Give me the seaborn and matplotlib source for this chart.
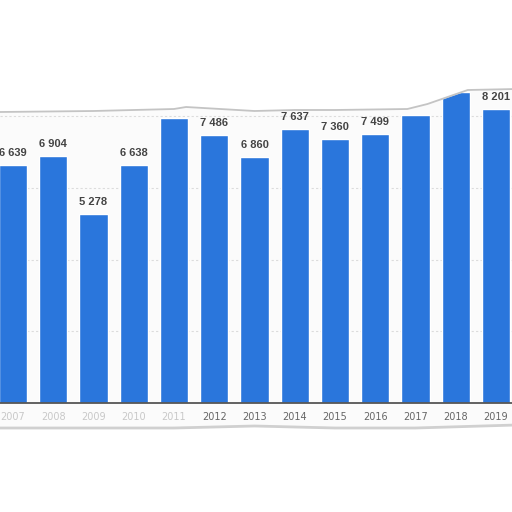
import matplotlib
matplotlib.use("Agg")
import matplotlib.pyplot as plt
import seaborn as sns
import pandas as pd
import numpy as np

years = ["2007", "2008", "2009", "2010", "2011", "2012", "2013",
         "2014", "2015", "2016", "2017", "2018", "2019"]
values = [6639, 6904, 5278, 6638, 7950, 7486, 6860,
          7637, 7360, 7499, 8035, 8680, 8201]
# labels visible in the (torn) reference; None = hidden by the torn edge
shown_labels = ["6 639", "6 904", "5 278", "6 638", None, "7 486", "6 860",
                "7 637", "7 360", "7 499", None, None, "8 201"]
faded_years = ["2007", "2008", "2009", "2010", "2011"]

BAR = "#2a76dc"
PX = 27.9          # value units per pixel
BASE = 403         # baseline pixel row

def v(p):
    return (BASE - p) * PX

sns.set_theme(style="white")
plt.rcParams['font.family'] = ['DejaVu Sans']

fig = plt.figure(figsize=(5.12, 5.12), dpi=100)
fig.patch.set_facecolor("white")
ax = fig.add_axes([0, 0, 1, 1])
ax.set_facecolor("white")

df = pd.DataFrame({"year": years, "value": values})

# chart "paper" background
ax.axhspan(v(428), v(88), color="#fbfbfb", zorder=0)

for g in [2000, 4000, 6000, 8000]:
    ax.axhline(g, color="#dcdcdc", lw=0.8, ls=(0, (2, 2)), zorder=0.5)

sns.barplot(data=df, x="year", y="value", color=BAR, width=0.70,
            saturation=1, ax=ax, zorder=2)

ax.axhline(0, color="#555555", lw=1.3, zorder=3)

for i, (val, lab) in enumerate(zip(values, shown_labels)):
    if lab:
        ax.text(i, val + 7 * PX, lab, ha="center", va="bottom",
                fontsize=8, fontweight="bold", color="#444444", zorder=4,
                family=["Liberation Sans", "DejaVu Sans"])

for i, y in enumerate(years):
    col = "#c8c8c8" if y in faded_years else "#666666"
    ax.text(i, v(417), y, ha="center", va="center", fontsize=7,
            color=col, zorder=4)

# torn paper edges (white cover above / below)
xs_top = np.array([-0.33, 2.0, 4.0, 4.3, 6.0, 7.0, 8.0, 9.8, 10.3, 10.8, 11.3, 12.5])
ys_top_px = np.array([112, 111, 109, 107, 111, 110, 110, 109, 104, 97, 90, 89])
ax.fill_between(xs_top, [v(p) for p in ys_top_px], v(0), color="white", zorder=5)
ax.plot(xs_top, [v(p) for p in ys_top_px], color="#c4c4c4", lw=1.3, zorder=5.5)

xs_bot = np.array([-0.33, 2.0, 4.0, 6.0, 8.0, 10.0, 12.5])
ys_bot_px = np.array([428, 428, 428, 426, 428, 428, 425])
ax.fill_between(xs_bot, v(512), [v(p) for p in ys_bot_px], color="white", zorder=5)
ax.plot(xs_bot, [v(p) for p in ys_bot_px], color="#d0d0d0", lw=2.0, zorder=5.5)

ax.set_xlim(-0.323, 12.40)
ax.set_ylim(v(512), v(0))
ax.set_xlabel("")
ax.set_ylabel("")
ax.set_xticks([])
ax.set_yticks([])
for s in ax.spines.values():
    s.set_visible(False)

fig.savefig("out.png", dpi=100, facecolor="white")
